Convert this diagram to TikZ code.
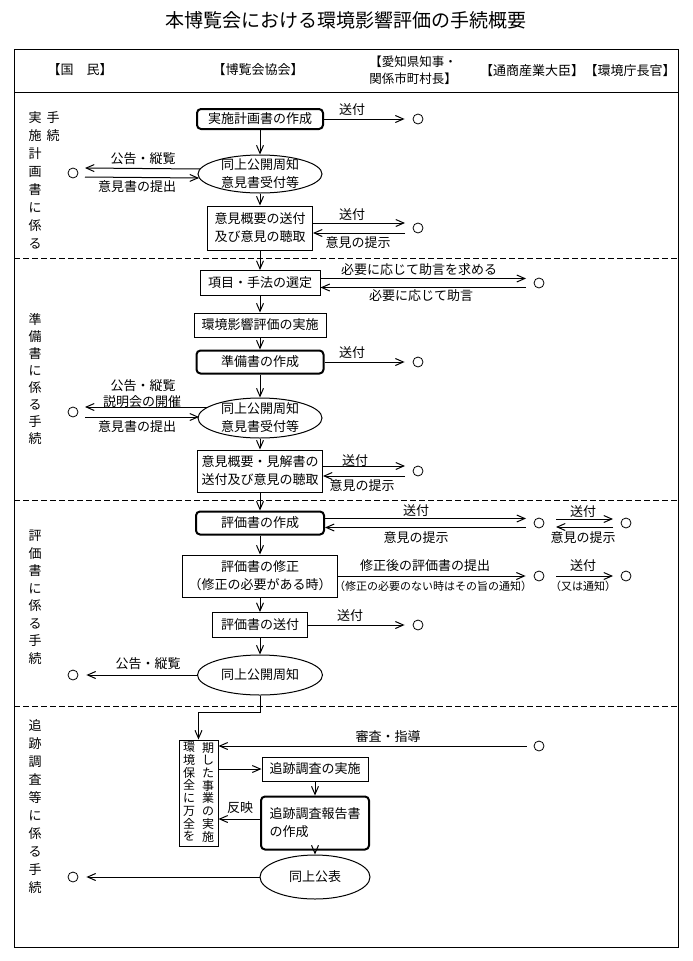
\documentclass[tikz,border=0pt]{standalone}
\usepackage{fontspec}
\setmainfont{Noto Sans CJK JP}
\usetikzlibrary{arrows.meta,shapes.geometric,calc}
\begin{document}
\lineskiplimit=-20pt\relax
\begin{tikzpicture}[x=1pt,y=-1pt,
  every node/.style={font=\fontsize{13}{18}\selectfont, inner sep=0pt},
  pbox/.style={draw, line width=1pt, align=center},
  rbox/.style={draw, line width=2pt, rounded corners=4pt, align=center},
  ell/.style={draw, ellipse, line width=1pt, align=center, inner ysep=-3pt},
  dot/.style={draw, circle, minimum size=10pt, line width=0.8pt},
  arr/.style={line width=1pt, -{Straight Barb[length=8pt,width=7pt]}},
  lbl/.style={font=\fontsize{13}{15}\selectfont},
  sml/.style={font=\fontsize{11}{12}\selectfont},
  sect/.style={font=\fontsize{13}{18}\selectfont, align=center, anchor=north},
  vtxt/.style={font=\fontsize{12}{12.7}\selectfont, align=center, anchor=north},
  sep/.style={line width=0.8pt, dash pattern=on 6pt off 3pt},
]
\useasboundingbox (0,0) rectangle (693,961);
% frame
\draw[line width=1pt] (14,49) rectangle (678,947);
\draw[line width=1pt] (14,92) -- (678,92);
\draw[sep] (14,258) -- (678,258);
\draw[sep] (14,500) -- (678,500);
\draw[sep] (14,706) -- (678,706);
% title and header
\node[font=\fontsize{19}{21}\selectfont] (title) at (346,20) {本博覧会における環境影響評価の手続概要};
\node (h1) at (80,70) {【国　民】};
\node (h2) at (258,70) {【博覧会協会】};
\node[align=center, font=\fontsize{12.5}{17}\selectfont] (h3) at (413,70) {【愛知県知事・\\関係市町村長】};
\node (h4) at (532,71) {【通商産業大臣】};
\node (h5) at (630,71) {【環境庁長官】};
% section labels
\node[sect] (s1a) at (35,111) {実\\施\\計\\画\\書\\に\\係\\る};
\node[sect] (s1b) at (53,111) {手\\続};
\node[sect, font=\fontsize{13}{17}\selectfont] (s2) at (35,313) {準\\備\\書\\に\\係\\る\\手\\続};
\node[sect, font=\fontsize{13}{17.5}\selectfont] (s3) at (35,530) {評\\価\\書\\に\\係\\る\\手\\続};
\node[sect] (s4) at (35,719) {追\\跡\\調\\査\\等\\に\\係\\る\\手\\続};

% ---------- section 1
\node[rbox, minimum width=126pt, minimum height=20pt] (b1) at (260,119) {実施計画書の作成};
\node[dot] (c1) at (418,119) {};
\draw[arr, shorten >=8pt] (b1) -- (c1);
\node[lbl] (l1) at (352,110) {送付};
\node[ell, minimum width=124pt, minimum height=38pt] (e1) at (260,174) {同上公開周知\\意見書受付等};
\node[dot] (c2) at (73,173) {};
\draw[arr] ($(e1.center)+(-60,-5)$) -- ($(c2.center)+(12,-5)$);
\draw[arr] ($(c2.center)+(12,4)$) -- ($(e1.center)+(-61,4)$);
\node[lbl] (l2) at (143,159) {公告・縦覧};
\node[lbl] (l3) at (137,187) {意見書の提出};
\node[pbox, minimum width=105pt, minimum height=44pt] (b2) at (260,228) {意見概要の送付\\及び意見の聴取};
\node[dot] (c3) at (418,228) {};
\draw[arr] ([yshift=5pt]b2.east) -- ($(c3.center)+(-13,-5)$);
\draw[arr] ($(c3.center)+(-13,5)$) -- ([yshift=-5pt]b2.east);
\node[lbl] (l4) at (352,215) {送付};
\node[lbl] (l5) at (358,243) {意見の提示};
\draw[arr] (b1) -- (e1);
\draw[arr] (e1) -- (b2);

% ---------- section 2
\node[pbox, minimum width=120pt, minimum height=25pt] (b3) at (260,283) {項目・手法の選定};
\node[dot] (c4) at (539,283) {};
\draw[arr] ([yshift=4.5pt]b3.east) -- ($(c4.center)+(-13,-4.5)$);
\draw[arr] ($(c4.center)+(-13,4.5)$) -- ([yshift=-4.5pt]b3.east);
\node[lbl] (l6) at (419,270) {必要に応じて助言を求める};
\node[lbl] (l7) at (421,296) {必要に応じて助言};
\node[pbox, minimum width=132pt, minimum height=24pt] (b4) at (260,325) {環境影響評価の実施};
\node[rbox, minimum width=127pt, minimum height=23pt] (b5) at (260,362) {準備書の作成};
\node[dot] (c5) at (418,362) {};
\draw[arr, shorten >=8pt] (b5) -- (c5);
\node[lbl] (l8) at (352,353) {送付};
\node[ell, minimum width=124pt, minimum height=40pt] (e2) at (260,418) {同上公開周知\\意見書受付等};
\node[dot] (c6) at (73,412) {};
\draw[arr] ($(e2.center)+(-52,-11)$) -- ($(c6.center)+(12,-5)$);
\draw[arr] ($(c6.center)+(12,5)$) -- ($(e2.center)+(-61,-1)$);
\node[lbl] (l9) at (143,386) {公告・縦覧};
\node[lbl] (l10) at (142,402) {説明会の開催};
\node[lbl] (l11) at (137,427) {意見書の提出};
\node[pbox, minimum width=125pt, minimum height=42pt] (b6) at (260,471) {意見概要・見解書の\\送付及び意見の聴取};
\node[dot] (c7) at (418,471) {};
\draw[arr] ([yshift=5pt]b6.east) -- ($(c7.center)+(-13,-5)$);
\draw[arr] ($(c7.center)+(-13,5)$) -- ([yshift=-5pt]b6.east);
\node[lbl] (l12) at (355,461) {送付};
\node[lbl] (l13) at (362,486) {意見の提示};
\draw[arr] (b2) -- (b3);
\draw[arr] (b3) -- (b4);
\draw[arr] (b4) -- (b5);
\draw[arr] (b5) -- (e2);
\draw[arr] (e2) -- (b6);

% ---------- section 3
\node[rbox, minimum width=128pt, minimum height=23pt] (b7) at (260,523) {評価書の作成};
\node[dot] (c8) at (539,523) {};
\node[dot] (c9) at (626,523) {};
\draw[arr] ([yshift=4.5pt]b7.east) -- ($(c8.center)+(-13,-4.5)$);
\draw[arr] ($(c8.center)+(-13,4.5)$) -- ([yshift=-4.5pt]b7.east);
\node[lbl] (l14) at (416,511) {送付};
\node[lbl] (l15) at (416,538) {意見の提示};
\draw[arr] ($(c8.center)+(17,-4)$) -- ($(c9.center)+(-13,-4)$);
\draw[arr] ($(c9.center)+(-13,4)$) -- ($(c8.center)+(17,4)$);
\node[lbl] (l16) at (583,512) {送付};
\node[lbl] (l17) at (583,538) {意見の提示};
\node[pbox, minimum width=155pt, minimum height=42pt] (b8) at (260,576) {評価書の修正\\（修正の必要がある時）};
\node[dot] (c10) at (539,576) {};
\node[dot] (c11) at (626,576) {};
\draw[arr, shorten >=8pt] (b8) -- (c10);
\node[lbl] (l18) at (425,566) {修正後の評価書の提出};
\node[sml] (l19) at (433,586) {（修正の必要のない時はその旨の通知）};
\draw[arr] ($(c10.center)+(17,0)$) -- ($(c11.center)+(-13,0)$);
\node[lbl] (l20) at (583,566) {送付};
\node[sml] (l21) at (583,586) {（又は通知）};
\node[pbox, minimum width=95pt, minimum height=25pt] (b9) at (260,625) {評価書の送付};
\node[dot] (c12) at (418,625) {};
\draw[arr, shorten >=8pt] (b9) -- (c12);
\node[lbl] (l22) at (350,616) {送付};
\node[ell, minimum width=125pt, minimum height=40pt] (e3) at (260,675) {同上公開周知};
\node[dot] (c13) at (73,675) {};
\draw[arr, shorten >=8pt] (e3) -- (c13);
\node[lbl] (l23) at (148,664) {公告・縦覧};
\draw[arr] (b6) -- (b7);
\draw[arr] (b7) -- (b8);
\draw[arr] (b8) -- (b9);
\draw[arr] (b9) -- (e3);

% ---------- section 4
\coordinate (k1) at (260,712);
\node[pbox, minimum width=39pt, minimum height=106pt] (vbox) at (198.5,793) {};
\node[vtxt] (vt1) at (208,742) {期\\し\\た\\事\\業\\の\\実\\施};
\node[vtxt] (vt2) at (189,742) {環\\境\\保\\全\\に\\万\\全\\を};
\draw[arr] (e3) -- (k1) -| (vbox.north);
\node[dot] (c14) at (539,746) {};
\draw[arr, shorten <=7pt] (c14) -- (c14 -| vbox.east);
\node[lbl] (l24) at (388,737) {審査・指導};
\node[pbox, minimum width=106pt, minimum height=24pt] (b10) at (315,769) {追跡調査の実施};
\draw[arr] (vbox.east |- b10.west) -- (b10.west);
\node[rbox, minimum width=108pt, minimum height=53pt, align=left] (b11) at (315,823) {追跡調査報告書\\の作成};
\draw[arr] (b10) -- (b11);
\draw[arr] ([yshift=4pt]b11.west) -- ([yshift=4pt]b11.west -| vbox.east);
\node[lbl] (l25) at (240,808) {反映};
\node[ell, minimum width=110pt, minimum height=44pt] (e4) at (315,877) {同上公表};
\draw[arr] (b11) -- (e4);
\node[dot] (c15) at (73,877) {};
\draw[arr, shorten >=8pt] (e4) -- (c15);
\end{tikzpicture}
\end{document}
